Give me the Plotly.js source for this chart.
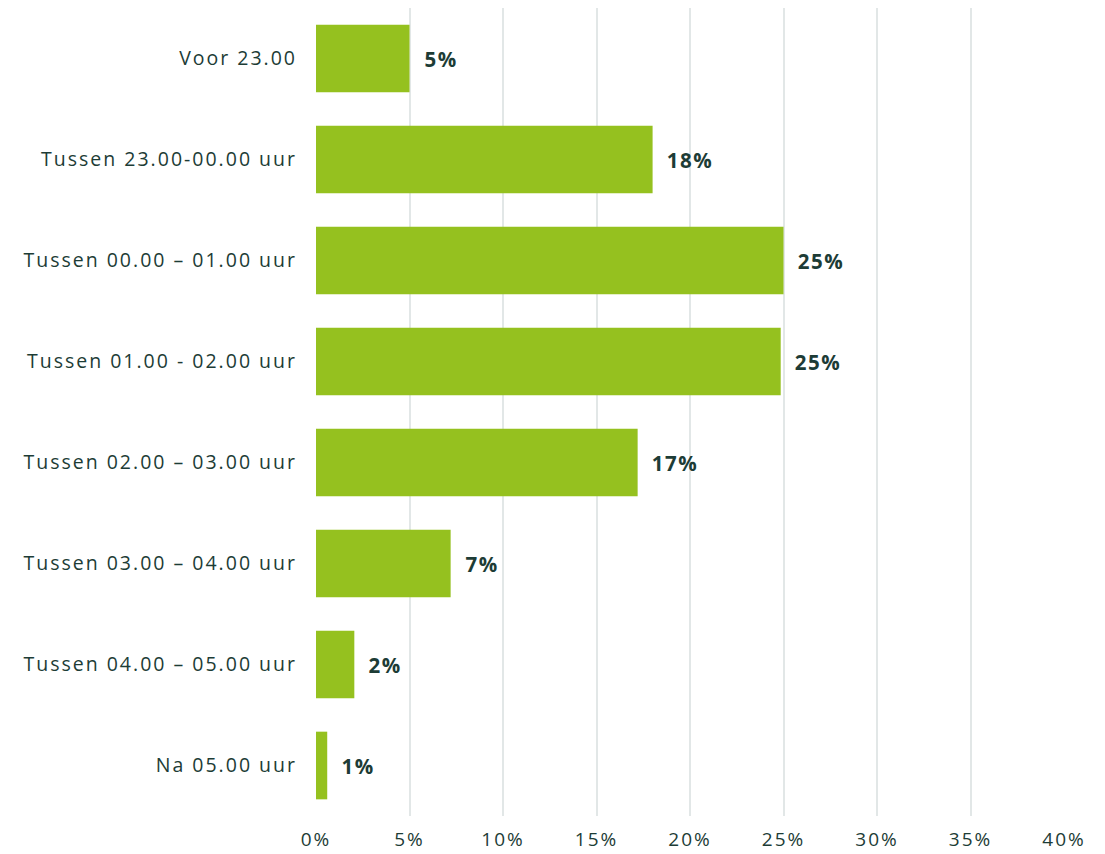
<!DOCTYPE html>
<html>
<head>
<meta charset="utf-8">
<script src="https://cdn.plot.ly/plotly-3.0.1.min.js"></script>
<style>
html,body{margin:0;padding:0;background:#fff;}
#chart{width:1105px;height:854px;}
#chart .ytick text{letter-spacing:2px;}
#chart .xtick text{letter-spacing:2px;}
#chart .annotation-text{letter-spacing:1.5px;}
</style>
</head>
<body>
<div id="chart"></div>
<script>
const categories = ["Voor 23.00","Tussen 23.00-00.00 uur","Tussen 00.00 – 01.00 uur","Tussen 01.00 - 02.00 uur","Tussen 02.00 – 03.00 uur","Tussen 03.00 – 04.00 uur","Tussen 04.00 – 05.00 uur","Na 05.00 uur"];
const values = [5.0, 18.0, 25.0, 24.85, 17.2, 7.2, 2.05, 0.6];
const valueLabels = ["5%","18%","25%","25%","17%","7%","2%","1%"];
const tickVals = [0,5,10,15,20,25,30,35,40];
const tickText = ["0%","5%","10%","15%","20%","25%","30%","35%","40%"];

const textColor = "#1d3c36";
const fontFam = "'Open Sans', 'Noto Sans', sans-serif";

const trace = {
  type: "bar",
  orientation: "h",
  y: categories,
  x: values,
  marker: {color: "#95c11f"},
  hoverinfo: "none"
};

const annotations = categories.map((c, i) => ({
  x: values[i], y: c, xref: "x", yref: "y",
  text: "<b>" + valueLabels[i] + "</b>",
  showarrow: false, xanchor: "left", xshift: 14,
  font: {family: fontFam, size: 20.5, color: textColor}
}));

const layout = {
  width: 1105, height: 854,
  margin: {l: 316, r: 41, t: 8, b: 38},
  paper_bgcolor: "#fff", plot_bgcolor: "#fff",
  showlegend: false,
  bargap: 0.33,
  xaxis: {
    range: [0, 40], tickvals: tickVals, ticktext: tickText,
    showgrid: true, gridcolor: "#e2e7e7", gridwidth: 2,
    zeroline: false, showline: false,
    tickfont: {family: fontFam, size: 19, color: textColor},
    ticks: "", ticklen: 0, ticklabelstandoff: 10
  },
  yaxis: {
    autorange: "reversed", showgrid: false, zeroline: false,
    ticks: "", ticklabelstandoff: 18,
    tickfont: {family: fontFam, size: 19.5, color: textColor}
  },
  annotations: annotations
};

Plotly.newPlot("chart", [trace], layout, {displayModeBar: false, staticPlot: true});
</script>
</body>
</html>
